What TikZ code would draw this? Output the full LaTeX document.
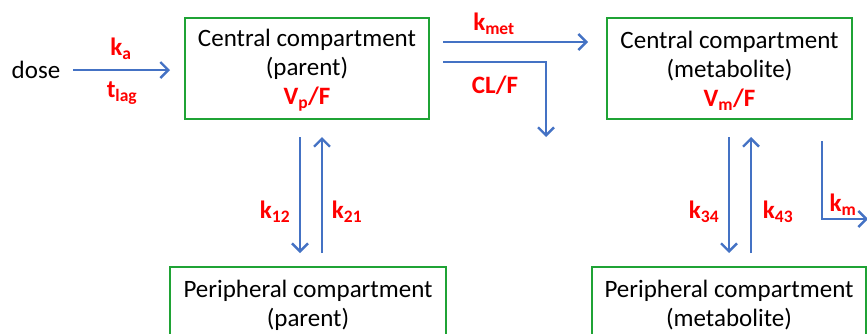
\documentclass[tikz,border=0pt]{standalone}
\usepackage{fontspec}
\setmainfont{Carlito}
\usetikzlibrary{arrows.meta}
\definecolor{arrowblue}{HTML}{4472C4}
\definecolor{boxgreen}{HTML}{1FA335}
\definecolor{labred}{HTML}{FF0000}
\tikzset{
  comp/.style={draw=boxgreen, line width=2.2pt, align=center, font=\fontsize{25}{29}\selectfont, inner sep=0pt},
  flow/.style={draw=arrowblue, line width=2.6pt, -{Straight Barb[length=8pt,width=16pt,line width=2.4pt]}},
  lab/.style={text=labred, font=\fontsize{25}{27}\selectfont\bfseries, inner sep=0pt},
  plain/.style={font=\fontsize{25}{29}\selectfont, inner sep=0pt}
}
\begin{document}
\begin{tikzpicture}[x=1pt,y=-1pt]
\useasboundingbox (0,0) rectangle (867,333);
\begin{scope}
\clip (0,0) rectangle (867,333);
% boxes
\node[comp, minimum width=244pt, minimum height=101pt] (cp) at (307,68.5) {};
\node[comp, minimum width=245pt, minimum height=101pt] (cm) at (729.5,68.5) {};
\node[plain, align=center] (cptext) at (307,70.5) {Central compartment\\(parent)\\\textcolor{labred}{\bfseries V\textsubscript{p}/F}};
\node[plain, align=center] (cmtext) at (729.5,70.5) {Central compartment\\(metabolite)\\\textcolor{labred}{\bfseries V\textsubscript{m}/F}};
\node[comp, minimum width=276pt, minimum height=90pt, anchor=north] (pp) at (308,266) {};
\node[comp, minimum width=274pt, minimum height=90pt, anchor=north] (pm) at (729,266) {};
\node[plain, align=center, anchor=north] (pptext) at (308,280) {Peripheral compartment\\(parent)};
\node[plain, align=center, anchor=north] (pmtext) at (729,280) {Peripheral compartment\\(metabolite)};
% dose
\node[plain] (dose) at (36,70) {dose};
\coordinate (dstart) at (73,70);
\coordinate (dend) at (170,70);
\draw[flow] (dstart) -- (dend);
\node[lab] (ka) at (121,49) {k\textsubscript{a}};
\node[lab] (tlag) at (122,93) {t\textsubscript{lag}};
% kmet
\coordinate (kms) at (443,42);
\coordinate (kme) at (588,42);
\draw[flow] (kms) -- (kme);
\node[lab] (kmet) at (494,24) {k\textsubscript{met}};
% CL/F
\coordinate (cls) at (443,62);
\coordinate (clc) at (546,62);
\coordinate (cle) at (546,137);
\draw[flow] (cls) -- (clc) -- (cle);
\node[lab] (clf) at (495,85) {CL/F};
% parent exchange
\coordinate (d1s) at (300,137);
\coordinate (d1e) at (300,253);
\coordinate (u1s) at (322,253);
\coordinate (u1e) at (322,137);
\draw[flow] (d1s) -- (d1e);
\draw[flow] (u1s) -- (u1e);
\node[lab] (k12) at (275,212) {k\textsubscript{12}};
\node[lab] (k21) at (347,212) {k\textsubscript{21}};
% metabolite exchange
\coordinate (d2s) at (729,137);
\coordinate (d2e) at (729,253);
\coordinate (u2s) at (751,253);
\coordinate (u2e) at (751,137);
\draw[flow] (d2s) -- (d2e);
\draw[flow] (u2s) -- (u2e);
\node[lab] (k34) at (704,212) {k\textsubscript{34}};
\node[lab] (k43) at (778,212) {k\textsubscript{43}};
% km
\coordinate (kmS) at (822,141);
\coordinate (kmC) at (822,219);
\coordinate (kmE) at (868,219);
\draw[flow] (kmS) -- (kmC) -- (kmE);
\node[lab] (km) at (843,205) {k\textsubscript{m}};
\end{scope}
\end{tikzpicture}
\end{document}
